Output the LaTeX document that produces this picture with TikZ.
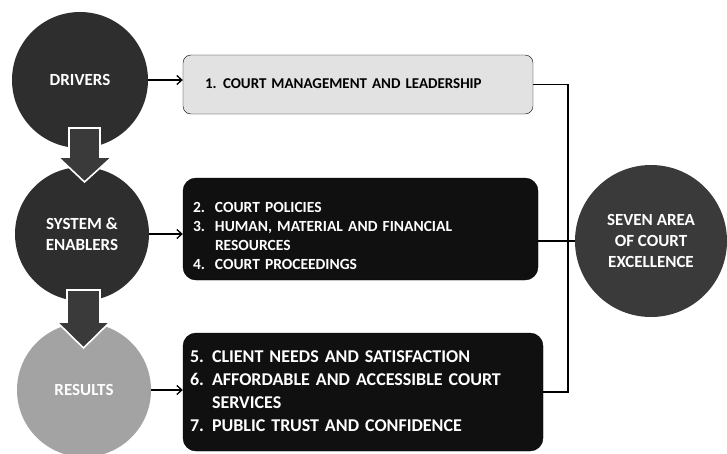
\documentclass[tikz,border=0pt]{standalone}
\usepackage{fontspec}
\setmainfont{Carlito}
\usetikzlibrary{arrows.meta}

\definecolor{circdark}{HTML}{2E2E2E}
\definecolor{circmid}{HTML}{3A3A3A}
\definecolor{circlight}{HTML}{A3A3A3}
\definecolor{boxdark}{HTML}{101010}
\definecolor{boxlight}{HTML}{E2E2E2}

\begin{document}
\begin{tikzpicture}[x=1pt, y=-1pt,
    stage/.style={circle, fill=circdark, text=white, align=center,
      font=\fontsize{17}{21}\selectfont\bfseries, inner sep=0pt},
    area/.style={rounded corners=13pt, fill=boxdark, draw=black, text=white,
      align=left, font=\bfseries},
    link/.style={-{Straight Barb[length=5pt,width=9pt]}, line width=1.3pt},
    bus/.style={line width=1.8pt},
    bigarrow/.style={fill=circmid, draw=white, line width=1.6pt, line join=miter}]
    \useasboundingbox (0,0) rectangle (727,453);

    % Stage circles
    \node[stage, minimum size=136pt] (drv) at (80,80) {DRIVERS};
    \node[stage, minimum size=134pt] (sys) at (82,234) {SYSTEM \&\\ENABLERS};
    \node[stage, minimum size=134pt, fill=circlight] (res) at (84,390) {RESULTS};

    % Downward arrows between stages
    \draw[bigarrow] (69,128) -- (100,128) -- (100,157) -- (112,157) -- (84.5,182)
      -- (58,157) -- (69,157) -- cycle;
    \draw[bigarrow] (67,290) -- (100,290) -- (100,322) -- (110,322) -- (83.5,348)
      -- (57,322) -- (67,322) -- cycle;

    % Area boxes
    \node[area, fill=boxlight, text=black, rounded corners=8pt,
      minimum width=350pt, minimum height=59pt, text width=306pt, inner xsep=22pt,
      font=\fontsize{15}{19}\selectfont\bfseries] (mgmt) at (358,84.5)
      {\begin{tabular}{@{}p{18pt}@{}l@{}}
        1. & COURT MANAGEMENT AND LEADERSHIP
      \end{tabular}};
    \node[area, minimum width=355pt, minimum height=102pt, text width=335pt,
      inner xsep=10pt, font=\fontsize{15.5}{19}\selectfont\bfseries] (enab) at (360.5,229)
      {\begin{tabular}{@{}p{22pt}@{}l@{}}
        2. & \rule{0pt}{29pt}COURT POLICIES\\
        3. & HUMAN, MATERIAL AND FINANCIAL\\
           & RESOURCES\\
        4. & COURT PROCEEDINGS
      \end{tabular}};
    \node[area, minimum width=360pt, minimum height=118pt, text width=346pt,
      inner xsep=7pt, font=\fontsize{18}{23}\selectfont\bfseries] (rslt) at (363,392)
      {\begin{tabular}{@{}p{22pt}@{}l@{}}
        5. & CLIENT NEEDS AND SATISFACTION\\
        6. & AFFORDABLE AND ACCESSIBLE COURT\\
           & SERVICES\\
        7. & PUBLIC TRUST AND CONFIDENCE
      \end{tabular}};

    % Outcome circle
    \node[stage, minimum size=152pt, fill=circmid] (sev) at (651,241)
      {SEVEN AREA\\OF COURT\\EXCELLENCE};

    % Links from stages to areas
    \draw[link] (drv) -- (mgmt.west |- drv);
    \draw[link] (sys) -- (enab.west |- sys);
    \draw[link] (res) -- (rslt.west |- res);

    % Bus to the outcome circle
    \coordinate (join) at (568,85);
    \draw[bus] (mgmt.east) -- (mgmt.east -| join) -- (join |- rslt.east) -- (rslt.east);
    \draw[bus] (sev.west -| enab.east) -- (sev.west);
\end{tikzpicture}
\end{document}
